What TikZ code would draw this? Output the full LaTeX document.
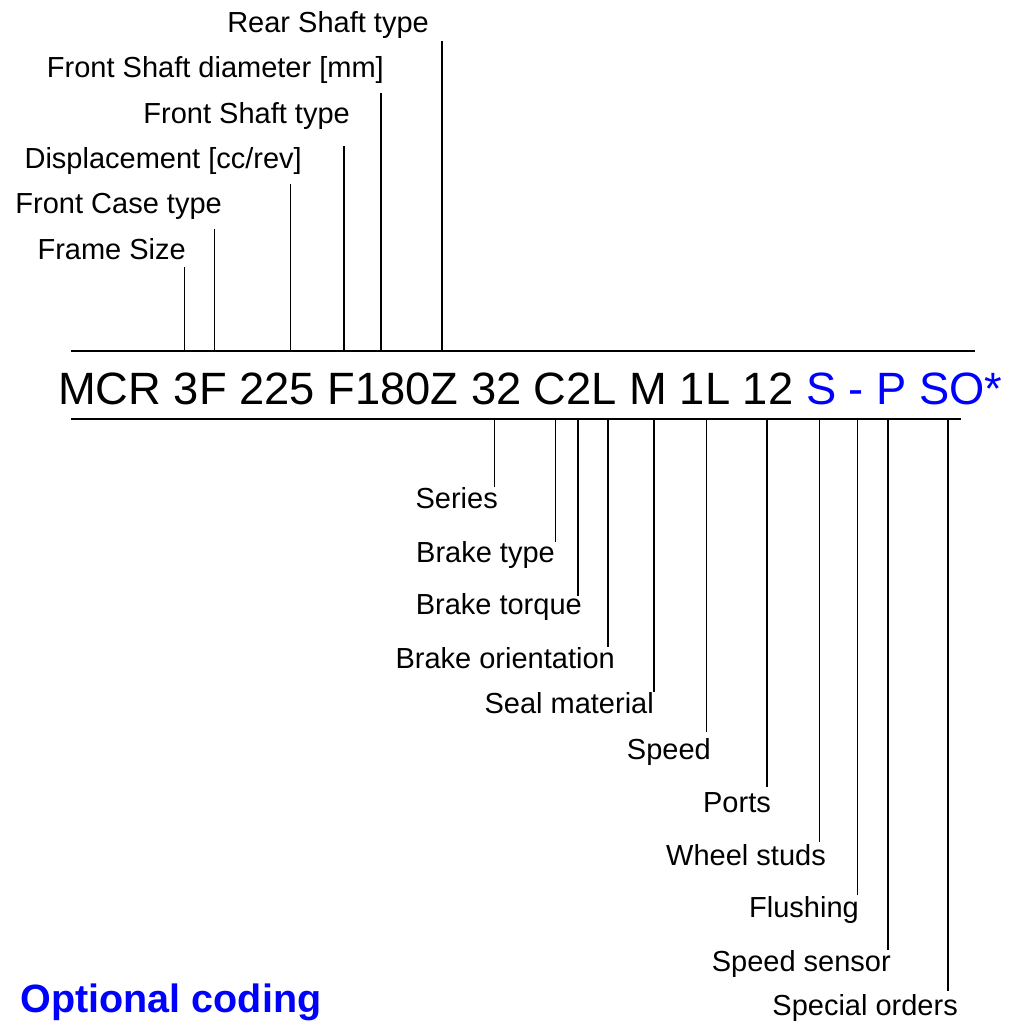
\documentclass[tikz,border=0pt]{standalone}
\usepackage{fontspec}
\setmainfont{Liberation Sans}
\begin{document}
\begin{tikzpicture}[x=1pt,y=-1pt,
  lbl/.style={inner sep=0pt,anchor=base east,font=\fontsize{29}{29}\selectfont},
  tick/.style={line width=1.6pt},
  rulebar/.style={line width=1.6pt}]
\useasboundingbox (0,0) rectangle (1012,1032);
% rules
\coordinate (tl) at (71,351);
\coordinate (tr) at (975,351);
\coordinate (bl) at (71,419);
\coordinate (br) at (961,419);
\draw[rulebar] (tl) -- (tr);
\draw[rulebar] (bl) -- (br);
% code
\node[anchor=base west,inner sep=0pt,font=\fontsize{45.3}{45.3}\selectfont] (code) at (58,404)
  {MCR 3F 225 F180Z 32 C2L M 1L 12 \textcolor{blue}{S - P SO*}};
% top labels: name/x/top/label right/baseline/text
\foreach \n/\x/\t/\r/\b/\txt in {
  fs/184.5/267/186/259/Frame Size,
  fc/214.5/229/222/214/Front Case type,
  dp/290.5/184/302/169/{Displacement [cc/rev]},
  ft/344/146/350/124/Front Shaft type,
  fd/381/93/384/78/{Front Shaft diameter [mm]},
  rs/442/41/429/33/Rear Shaft type}{
  \node[lbl] (\n) at (\r,\b) {\txt};
  \coordinate (\n-top) at (\x,\t);
  \coordinate (\n-base) at (\x,351);
  \draw[tick] (\n-base) -- (\n-top);
}
% bottom labels
\foreach \n/\x/\t/\r/\b/\txt in {
  se/494.5/487/498/508/Series,
  bt/555.5/542/555/562/Brake type,
  bq/578/596/582/614/Brake torque,
  bo/608/647/615/668/Brake orientation,
  sm/654/692/654/713/Seal material,
  sp/706.5/732/711/759/Speed,
  po/767/787/771/812/Ports,
  ws/819.5/842/826/865/Wheel studs,
  fl/857.5/895/859/917/Flushing,
  ss/888/950/891/971/Speed sensor,
  so/948/991/958/1015/Special orders}{
  \node[lbl] (\n) at (\r,\b) {\txt};
  \coordinate (\n-end) at (\x,\t);
  \coordinate (\n-base) at (\x,419);
  \draw[tick] (\n-base) -- (\n-end);
}
\node[anchor=base west,inner sep=0pt,text=blue,font=\fontsize{39.5}{39.5}\selectfont\bfseries] (opt) at (20.5,1012) {Optional coding};
\end{tikzpicture}
\end{document}
